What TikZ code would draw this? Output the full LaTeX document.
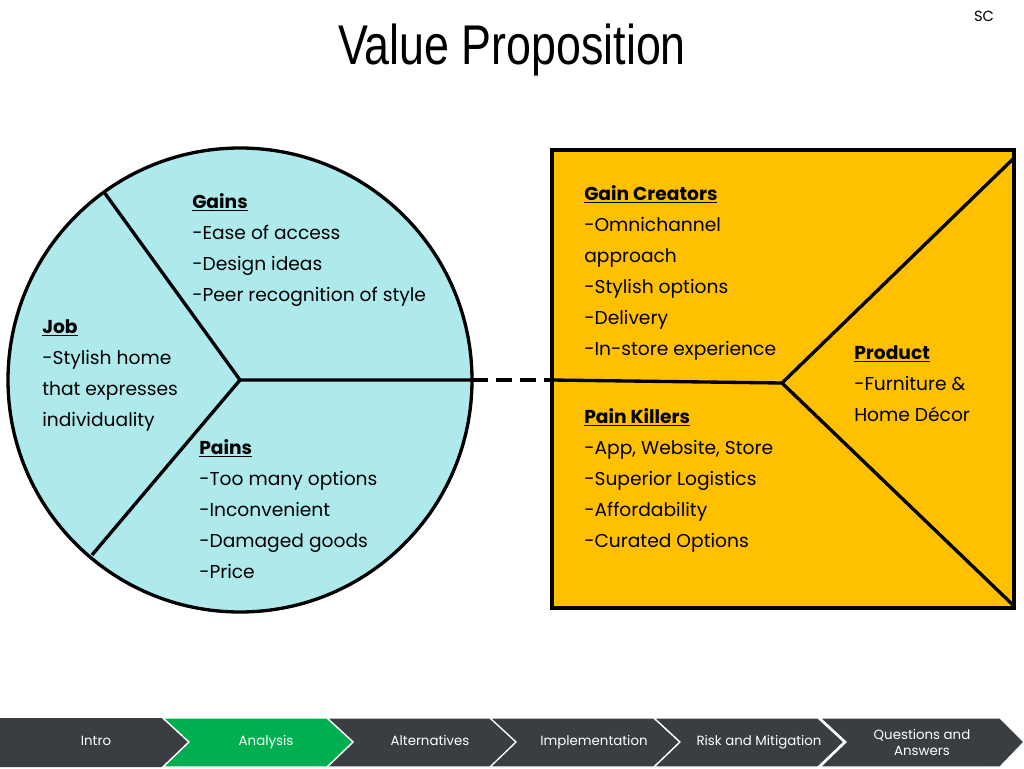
\documentclass[tikz,border=0pt]{standalone}
\usepackage{fontspec}
\setmainfont{Poppins}
\newfontfamily\titlefont{Liberation Sans}
\usetikzlibrary{positioning}
\definecolor{circfill}{HTML}{AEEAEC}
\definecolor{boxfill}{HTML}{FFC000}
\definecolor{barfill}{HTML}{3A3D41}
\definecolor{barhi}{HTML}{00B050}
\tikzset{
  txt/.style={align=left,anchor=north west,inner sep=0pt,
    font=\fontsize{14}{23.25}\selectfont},
  seg/.style={fill=barfill,draw=white,line width=1pt},
  navtxt/.style={text=white,font=\fontsize{10}{12}\selectfont,align=center,
    text height=7pt,text depth=2pt},
  line/.style={line width=2.5pt}
}
\begin{document}
\begin{tikzpicture}[x=0.75pt,y=-0.75pt]
  \useasboundingbox (0,0) rectangle (1024,768);
  \node[font=\titlefont\fontsize{42}{44}\selectfont,xscale=0.8] (title) at (512,50) {Value Proposition};
  \node[font=\fontsize{11}{12}\selectfont] (sc) at (984,16) {SC};

  % customer circle
  \draw[line,fill=circfill] (240,380) circle (232);
  \coordinate (hub) at (240,380);
  \coordinate (up) at (104,192);
  \coordinate (low) at (92,555);
  \coordinate (cr) at (472,380);
  % product box
  \draw[line,fill=boxfill] (552,150) rectangle (1014,608);
  \coordinate (bl) at (552,380);
  \coordinate (phub) at (782,383);
  \coordinate (tr) at (1014,158);
  \coordinate (br) at (1014,606);
  \draw[line] (hub) -- (up) (hub) -- (low) (hub) -- (cr);
  \draw[line,dashed,dash pattern=on 12pt off 6pt] (cr) -- (bl);
  \draw[line] (bl) -- (phub) -- (tr) (phub) -- (br);

  \node[txt] (gains) at (192,193) {\textbf{\underline{Gains}}\\-Ease of access\\-Design ideas\\-Peer recognition of style};
  \node[txt] (job) at (42,319) {\textbf{\underline{Job}}\\-Stylish home\\that expresses\\individuality};
  \node[txt] (pains) at (199,439) {\textbf{\underline{Pains}}\\-Too many options\\-Inconvenient\\-Damaged goods\\-Price};
  \node[txt] (gc) at (584,185) {\textbf{\underline{Gain Creators}}\\-Omnichannel\\approach\\-Stylish options\\-Delivery\\-In-store experience};
  \node[txt] (pk) at (584,408) {\textbf{\underline{Pain Killers}}\\-App, Website, Store\\-Superior Logistics\\-Affordability\\-Curated Options};
  \node[txt] (prod) at (854,345) {\textbf{\underline{Product}}\\-Furniture \&\\Home Décor};

  % navigation bar
  \fill[barfill] (0,718) -- (165,718) -- (190,742) -- (165,767) -- (0,767) -- cycle;
  \foreach \a in {163,327,490,654,820}
    \draw[seg] (\a,718) -- (\a+164,718) -- (\a+190,742) -- (\a+164,767) -- (\a,767) -- (\a+26,742) -- cycle;
  \draw[seg,fill=barhi] (163,718) -- (327,718) -- (353,742) -- (327,767) -- (163,767) -- (189,742) -- cycle;
  \draw[seg] (820,718) -- (1000,718) -- (1024,742) -- (1000,767) -- (820,767) -- (846,742) -- cycle;
  \node[navtxt] (n1) at (96,742) {Intro};
  \node[navtxt] (n2) at (266,742) {Analysis};
  \node[navtxt] (n3) at (430,742) {Alternatives};
  \node[navtxt] (n4) at (594,742) {Implementation};
  \node[navtxt] (n5) at (759,742) {Risk and Mitigation};
  \node[navtxt,text height=,text depth=] (n6) at (922,742) {Questions and\\Answers};
\end{tikzpicture}
\end{document}
